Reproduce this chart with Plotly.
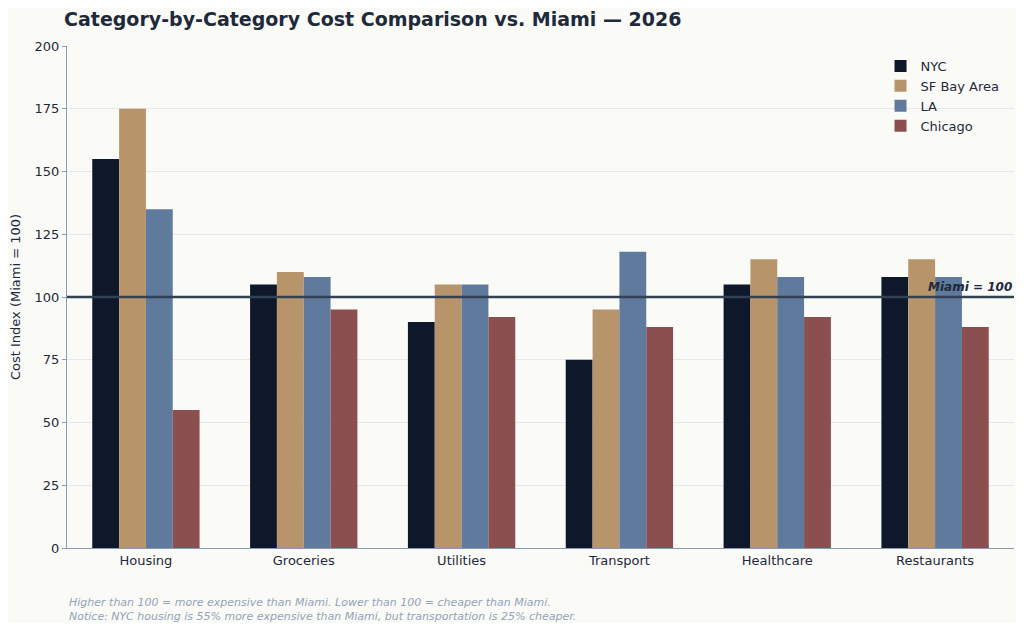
import plotly.graph_objects as go

categories = ["Housing", "Groceries", "Utilities", "Transport", "Healthcare", "Restaurants"]
nyc = [155, 105, 90, 75, 105, 108]
sf = [175, 110, 105, 95, 115, 115]
la = [135, 108, 105, 118, 108, 108]
chicago = [55, 95, 92, 88, 92, 88]
y_ticks = [0, 25, 50, 75, 100, 125, 150, 175, 200]

SERIES = [
    ("NYC", nyc, "#0f172a"),
    ("SF Bay Area", sf, "#b8946a"),
    ("LA", la, "#5f7a9c"),
    ("Chicago", chicago, "#8b4f4f"),
]

fig = go.Figure()
for name, vals, color in SERIES:
    fig.add_trace(go.Bar(x=categories, y=vals, name=name, marker_color=color,
                         marker_line_width=0))

fig.add_hline(y=100, line_color="#334155", line_width=2.5)
fig.add_annotation(x=1, xref="paper", y=100, yref="y", text="<b><i>Miami = 100</i></b>",
                   showarrow=False, xanchor="right", yanchor="bottom", yshift=1,
                   font=dict(size=12, color="#1e293b"))
fig.add_annotation(x=0, xref="paper", y=-0.092, yref="paper", xanchor="left", yanchor="top",
                   align="left", showarrow=False,
                   text="<i>Higher than 100 = more expensive than Miami. Lower than 100 = cheaper than Miami.<br>"
                        "Notice: NYC housing is 55% more expensive than Miami, but transportation is 25% cheaper.</i>",
                   font=dict(size=11, color="#94a3b8"))

fig.update_layout(
    width=1008, height=615,
    margin=dict(l=56, r=2, t=38, b=75),
    paper_bgcolor="#fafaf7", plot_bgcolor="#fafaf7",
    font=dict(family="DejaVu Sans", size=13, color="#1e293b"),
    title=dict(text="<b>Category-by-Category Cost Comparison vs. Miami — 2026</b>",
               x=0.0556, xanchor="left", y=0.982, yanchor="middle",
               font=dict(size=19, color="#1e293b")),
    barmode="group", bargap=0.32, bargroupgap=0,
    legend=dict(x=0.99, y=0.99, xanchor="right", yanchor="top", bgcolor="rgba(0,0,0,0)",
                font=dict(size=13)),
    xaxis=dict(showline=True, linecolor="#8c9bb5", ticks="", showgrid=False),
    yaxis=dict(range=[0, 200], tickvals=y_ticks, showline=True, linecolor="#8c9bb5",
               gridcolor="#e5e7eb", zeroline=False, ticks="outside", ticklen=4,
               tickcolor="#8c9bb5", title=dict(text="Cost Index (Miami = 100)", font=dict(size=13))),
)

fig.write_html("out.html")
